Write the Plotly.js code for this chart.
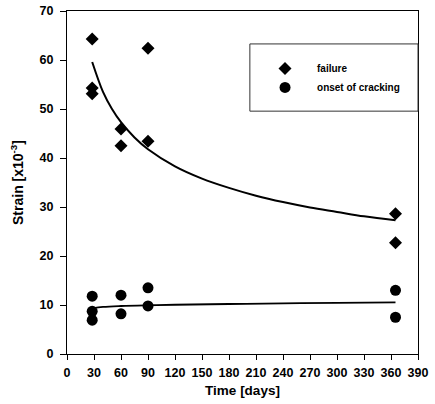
<!DOCTYPE html>
<html>
<head>
<meta charset="utf-8">
<script src="https://cdn.plot.ly/plotly-3.0.1.min.js"></script>
<style>html,body{margin:0;padding:0;background:#fff;}#chart{width:435px;height:404px;}</style>
</head>
<body>
<div id="chart"></div>
<script>
// measured points
const failureDays = [28, 28, 28, 60, 60, 90, 90, 365, 365];
const failureStrain = [64.3, 54.3, 53.1, 45.9, 42.5, 62.4, 43.4, 28.6, 22.7];
const crackDays = [28, 28, 28, 60, 60, 90, 90, 365, 365];
const crackStrain = [11.8, 8.7, 6.9, 12.0, 8.2, 13.5, 9.8, 13.0, 7.5];
// trend curves
const failureFitDays = [28, 40, 50, 60, 75, 90, 120, 150, 180, 210, 240, 270, 300, 330, 365];
const failureFitStrain = [59.6, 53.5, 50.0, 47.3, 44.2, 41.8, 38.3, 35.8, 33.9, 32.3, 31.0, 29.9, 29.0, 28.1, 27.3];
const crackFitDays = [28, 40, 60, 90, 120, 180, 240, 300, 365];
const crackFitStrain = [9.3, 9.6, 9.8, 9.95, 10.05, 10.2, 10.35, 10.45, 10.55];
const xTicks = [0, 30, 60, 90, 120, 150, 180, 210, 240, 270, 300, 330, 360, 390];
const yTicks = [0, 10, 20, 30, 40, 50, 60, 70];

const font = 'Liberation Sans, Arial, sans-serif';
const traces = [
  {x: failureFitDays, y: failureFitStrain, mode: 'lines', line: {color: '#000', width: 2, shape: 'spline'}, showlegend: false, hoverinfo: 'skip'},
  {x: crackFitDays, y: crackFitStrain, mode: 'lines', line: {color: '#000', width: 1.8, shape: 'spline'}, showlegend: false, hoverinfo: 'skip'},
  {x: failureDays, y: failureStrain, mode: 'markers', name: '<b>failure</b>', marker: {symbol: 'diamond', size: 10, color: '#000'}},
  {x: crackDays, y: crackStrain, mode: 'markers', name: '<b>onset of cracking</b>', marker: {symbol: 'circle', size: 11, color: '#000'}}
];
const layout = {
  width: 435, height: 404,
  margin: {l: 67, r: 17, t: 11, b: 50},
  paper_bgcolor: '#fff', plot_bgcolor: '#fff',
  font: {family: font, color: '#000', size: 12},
  xaxis: {
    range: [0, 390], tickvals: xTicks, ticktext: xTicks.map(v => '<b>' + v + '</b>'),
    showgrid: false, zeroline: false, showline: true, linecolor: '#000', linewidth: 1, mirror: true,
    ticks: 'outside', ticklen: 5, tickcolor: '#000', tickfont: {size: 12.5, family: font},
    ticklabelstandoff: 2,
    title: {text: '<b>Time [days]</b>', font: {size: 13.5, family: font}, standoff: 6}
  },
  yaxis: {
    range: [0, 70], tickvals: yTicks, ticktext: yTicks.map(v => '<b>' + v + '</b>'),
    showgrid: false, zeroline: false, showline: true, linecolor: '#000', linewidth: 1, mirror: true,
    ticks: 'outside', ticklen: 6, tickcolor: '#000', tickfont: {size: 12.5, family: font},
    ticklabelstandoff: 4,
    title: {text: '<b>Strain [x10<sup>-3</sup>]</b>', font: {size: 14, family: font}, standoff: 12}
  },
  shapes: [{type: 'rect', xref: 'paper', yref: 'paper', x0: 0.521, x1: 1, y0: 0.708, y1: 0.904,
            line: {color: '#333', width: 1}, fillcolor: 'rgba(0,0,0,0)'}],
  legend: {x: 0.530, y: 0.875, xanchor: 'left', yanchor: 'top', bgcolor: 'rgba(0,0,0,0)',
           borderwidth: 0, itemwidth: 54, font: {size: 10, family: font}},
  showlegend: true
};
Plotly.newPlot('chart', traces, layout, {displayModeBar: false, staticPlot: true});
</script>
</body>
</html>
